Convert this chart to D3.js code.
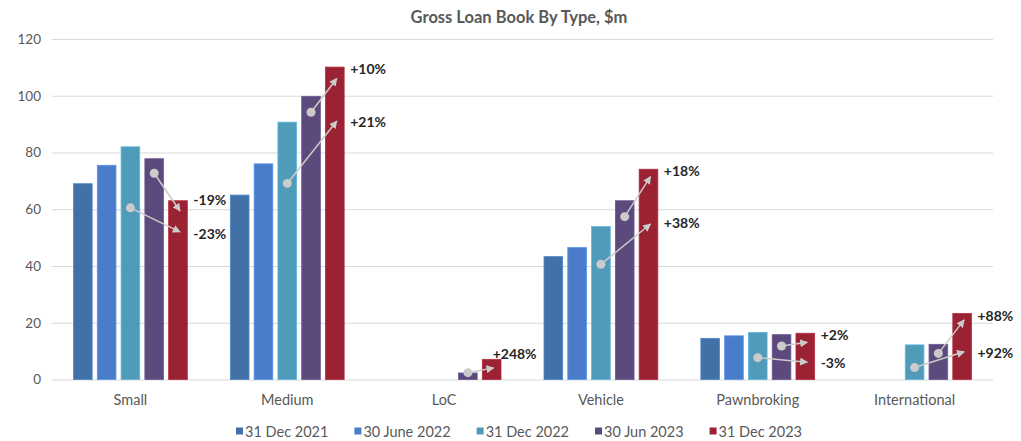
<!DOCTYPE html>
<html>
<head>
<meta charset="utf-8">
<script src="https://cdn.jsdelivr.net/npm/d3@7"></script>
<style>
  body { margin: 0; background: #fff; }
  text { font-family: Lato, "Open Sans", sans-serif; }
</style>
</head>
<body>
<div id="chart"></div>
<script>
// values, $m
var categories = ["Small", "Medium", "LoC", "Vehicle", "Pawnbroking", "International"]
var seriesNames = ["31 Dec 2021", "30 June 2022", "31 Dec 2022", "30 Jun 2023", "31 Dec 2023"]
var dec2021 = [69, 65, null, 43.3, 14.5, null]
var jun2022 = [75.5, 76, null, 46.5, 15.4, null]
var dec2022 = [82, 90.7, null, 53.9, 16.6, 12.2]
var jun2023 = [77.8, 99.8, 2.3, 63, 15.8, 12.4]
var dec2023 = [63, 110.1, 7.1, 74.1, 16.3, 23.3]
var yTicks = [0, 20, 40, 60, 80, 100, 120]
var colors = ["#4271a8", "#4a7dc9", "#4f9bb9", "#5d4a7c", "#9a2233"]

// change annotations: arrow from an earlier period to 31 Dec 2023
var annCategory = ["Small", "Small", "Medium", "Medium", "LoC", "Vehicle", "Vehicle", "Pawnbroking", "Pawnbroking", "International", "International"]
var annFrom = [3, 2, 3, 2, 3, 3, 2, 3, 2, 3, 2]
var annStart = [72.7, 60.5, 94.2, 69.1, 2.4, 57.4, 40.6, 11.8, 7.7, 9.2, 4.2]
var annEnd = [59.4, 52, 106.1, 91.1, 4.1, 71.5, 54.8, 13.1, 6.1, 21, 9.8]
var annText = ["-19%", "-23%", "+10%", "+21%", "+248%", "+18%", "+38%", "+2%", "-3%", "+88%", "+92%"]
var annTextAt = [63.3, 51.5, 109.7, 90.9, 9, 73.6, 55.5, 16, 6.1, 22.7, 9.6]
var annPlace = ["right", "right", "right", "right", "above", "right", "right", "right", "right", "right", "right"]

var series = [dec2021, jun2022, dec2022, jun2023, dec2023]

var width = 1021,
  height = 441,
  plotLeft = 52,
  plotRight = 993,
  plotTop = 39,
  plotBottom = 379.5

var svg = d3.select("#chart")
  .append("svg")
  .attr("width", width)
  .attr("height", height)

var x0 = d3.scaleBand()
  .domain(categories)
  .range([plotLeft, plotRight])
  .paddingInner(0.244)
  .paddingOuter(0.122)

var x1 = d3.scaleBand()
  .domain(d3.range(seriesNames.length))
  .range([0, x0.bandwidth()])
  .paddingInner(0.215)
  .paddingOuter(0.1)

var y = d3.scaleLinear()
  .domain([0, 120])
  .range([plotBottom, plotTop])

// title
svg.append("text")
  .attr("x", 519)
  .attr("y", 17)
  .attr("text-anchor", "middle")
  .attr("dominant-baseline", "central")
  .style("font-size", "16.5px")
  .style("font-weight", "bold")
  .style("fill", "#595959")
  .text("Gross Loan Book By Type, $m")

// gridlines + y labels
var yAxis = svg.append("g")
  .attr("transform", "translate(" + plotLeft + ",0)")
  .call(d3.axisLeft(y).tickValues(yTicks).tickSize(-(plotRight - plotLeft)).tickPadding(11))
yAxis.select(".domain").remove()
yAxis.selectAll(".tick line").attr("stroke", "#d9d9d9")
yAxis.selectAll(".tick text")
  .style("font-size", "13.5px")
  .style("fill", "#595959")

// category labels
var xAxis = svg.append("g")
  .attr("transform", "translate(0," + plotBottom + ")")
  .call(d3.axisBottom(x0).tickSize(0).tickPadding(15))
xAxis.select(".domain").remove()
xAxis.selectAll(".tick text")
  .style("font-size", "14.5px")
  .style("fill", "#595959")

// bars
var rows = []
categories.forEach(function (c, i) {
  series.forEach(function (s, j) {
    if (s[i] != null) rows.push({ cat: c, k: j, v: s[i] })
  })
})

svg.append("g")
  .selectAll("rect")
  .data(rows)
  .enter()
  .append("rect")
  .attr("x", function (d) { return x0(d.cat) + x1(d.k) })
  .attr("width", x1.bandwidth())
  .attr("y", function (d) { return y(d.v) })
  .attr("height", function (d) { return y(0) - y(d.v) })
  .attr("fill", function (d) { return colors[d.k] })
  .attr("stroke", function (d) { return d3.color(colors[d.k]).brighter(0.5) })
  .attr("stroke-width", 0.8)

// arrows
svg.append("defs")
  .append("marker")
  .attr("id", "head")
  .attr("viewBox", "0 0 10 10")
  .attr("refX", 9)
  .attr("refY", 5)
  .attr("markerUnits", "userSpaceOnUse")
  .attr("markerWidth", 8)
  .attr("markerHeight", 8)
  .attr("orient", "auto")
  .append("path")
  .attr("d", "M0,0 L10,5 L0,10 z")
  .attr("fill", "#cbcbcb")

var anns = annCategory.map(function (c, i) {
  return { cat: c, from: annFrom[i], v0: annStart[i], v1: annEnd[i], text: annText[i], at: annTextAt[i], place: annPlace[i] }
})

function barMid(cat, k) { return x0(cat) + x1(k) + x1.bandwidth() / 2 }

var ann = svg.append("g")

ann.selectAll("line")
  .data(anns)
  .enter()
  .append("line")
  .attr("x1", function (d) { return barMid(d.cat, d.from) })
  .attr("y1", function (d) { return y(d.v0) })
  .attr("x2", function (d) { return barMid(d.cat, 4) + 2 })
  .attr("y2", function (d) { return y(d.v1) })
  .attr("stroke", "#cbcbcb")
  .attr("stroke-width", 1.5)
  .attr("marker-end", "url(#head)")

ann.selectAll("circle")
  .data(anns)
  .enter()
  .append("circle")
  .attr("cx", function (d) { return barMid(d.cat, d.from) })
  .attr("cy", function (d) { return y(d.v0) })
  .attr("r", 4.5)
  .attr("fill", "#cbcbcb")

ann.selectAll("text")
  .data(anns)
  .enter()
  .append("text")
  .attr("x", function (d) {
    return d.place == "above" ? barMid(d.cat, 4) + 1 : x0(d.cat) + x1(4) + x1.bandwidth() + 6
  })
  .attr("y", function (d) { return y(d.at) })
  .attr("dominant-baseline", "central")
  .style("font-size", "14px")
  .style("font-weight", "bold")
  .style("fill", "#262626")
  .text(function (d) { return d.text })

// legend
var legend = svg.append("g")
var lx = 0
var items = legend.selectAll("g")
  .data(seriesNames)
  .enter()
  .append("g")

items.append("rect")
  .attr("width", 7)
  .attr("height", 7)
  .attr("y", -3.5)
  .attr("fill", function (d, i) { return colors[i] })

items.append("text")
  .attr("x", 9)
  .attr("dominant-baseline", "central")
  .style("font-size", "14.5px")
  .style("fill", "#595959")
  .text(function (d) { return d })

items.each(function () {
  d3.select(this).attr("transform", "translate(" + lx + ",0)")
  lx += this.getBBox().width + 26
})
lx -= 26
legend.attr("transform", "translate(" + (519 - lx / 2) + ",431)")
</script>
</body>
</html>
